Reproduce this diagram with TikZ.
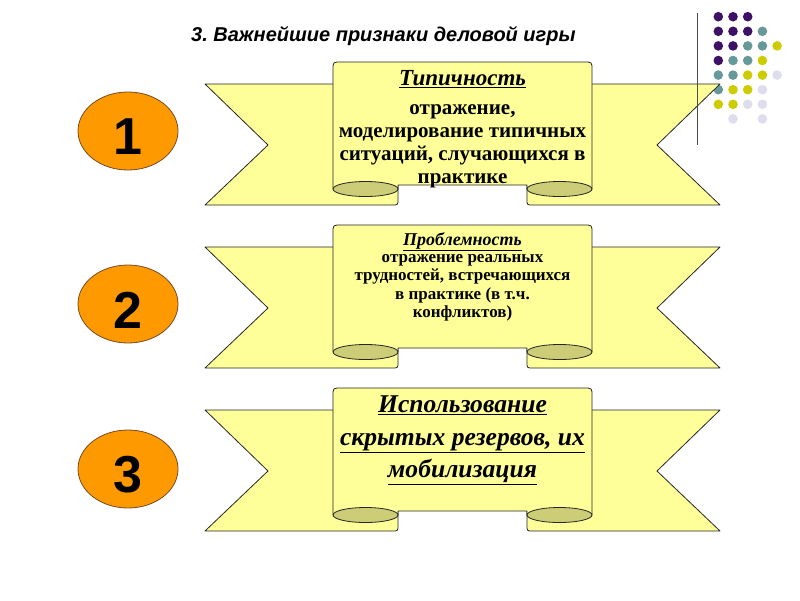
\documentclass[tikz,border=0pt]{standalone}
\usepackage{fontspec}
\setmainfont{Liberation Serif}
\newfontfamily\arialf{Liberation Sans}
\usetikzlibrary{shapes.geometric}
\definecolor{ribY}{HTML}{FFFF99}
\definecolor{curlY}{HTML}{CDCD78}
\definecolor{orng}{HTML}{FF9900}
\definecolor{dPurple}{HTML}{3D1166}
\definecolor{dTeal}{HTML}{669999}
\definecolor{dYel}{HTML}{CCCC00}
\definecolor{dLav}{HTML}{DDDDEE}
\tikzset{
  ribline/.style={draw=black!85, line width=0.8pt, fill=ribY, line join=round},
  curl/.style={draw=black!85, line width=0.8pt, fill=curlY},
  numoval/.style={ellipse, draw=brown!60!black, fill=orng, minimum width=100pt, minimum height=78pt, line width=0.8pt, inner sep=0pt},
  numtxt/.style={font=\arialf\bfseries\fontsize{52}{52}\selectfont, inner sep=0pt},
  ribtext/.style={align=center, anchor=north, inner sep=0pt},
}
\newcommand{\ribbonshape}{%
  \path[ribline] (205,0) -- (398,0) -- (398,115) .. controls (398,121) .. (392,121) -- (205,121) -- (268,61) -- cycle;
  \path[ribline] (720,0) -- (527,0) -- (527,115) .. controls (527,121) .. (533,121) -- (720,121) -- (657,61) -- cycle;
  \path[ribline] (333,105) -- (333,-14) .. controls (333,-22) .. (341,-22) -- (584,-22) .. controls (592,-22) .. (592,-14) -- (592,105) -- (527,105) -- (527,101) -- (398,101) -- (398,105) -- cycle;
  \path[curl] (365.5,105) ellipse [x radius=32.5pt, y radius=7.5pt];
  \path[curl] (559.5,105) ellipse [x radius=32.5pt, y radius=7.5pt];
}
\begin{document}
\begin{tikzpicture}[x=1pt,y=-1pt]
\path[fill=white, use as bounding box] (0,0) rectangle (800,600);

% dots
\foreach \c/\r/\col in {0/0/dPurple,1/0/dPurple,2/0/dPurple,
  0/1/dPurple,1/1/dPurple,2/1/dPurple,3/1/dTeal,
  0/2/dPurple,1/2/dPurple,2/2/dTeal,3/2/dTeal,4/2/dYel,
  0/3/dPurple,1/3/dTeal,2/3/dTeal,3/3/dYel,
  0/4/dTeal,1/4/dTeal,2/4/dYel,3/4/dYel,4/4/dLav,
  0/5/dTeal,1/5/dYel,2/5/dYel,3/5/dLav,
  0/6/dYel,1/6/dYel,2/6/dLav,3/6/dLav,
  1/7/dLav,3/7/dLav}
  \fill[\col] ({718.3+14.7*\c},{16.7+14.6*\r}) circle[radius=4.8pt];

% title
\node[anchor=west, inner sep=0pt, font=\arialf\bfseries\itshape\fontsize{20}{20}\selectfont] (title) at (191,36) {3.\ Важнейшие признаки деловой игры};

% ribbons
\begin{scope}[yshift=-84pt]\ribbonshape\end{scope}
\begin{scope}[yshift=-247pt]\ribbonshape\end{scope}
\begin{scope}[yshift=-410pt]\ribbonshape\end{scope}

\draw[gray!60!black, line width=1pt] (697,13) -- (697,145);

% ribbon texts
\node[ribtext, font=\bfseries\fontsize{21}{23}\selectfont] (t1) at (462.5,70)
  {{\itshape\fontsize{23}{23}\selectfont\underline{Типичность}}\\[6pt]
  отражение,\\ моделирование типичных\\ ситуаций, случающихся в\\ практике};
\node[ribtext, font=\bfseries\fontsize{17}{18.4}\selectfont] (t2) at (462.5,232)
  {{\itshape\fontsize{18}{18}\selectfont\underline{Проблемность}}\\[-1pt]
  отражение реальных\\ трудностей, встречающихся\\ в практике (в т.ч.\\ конфликтов)};
\node[ribtext, font=\bfseries\itshape\fontsize{25.6}{32.5}\selectfont] (t3) at (462.5,396)
  {\underline{Использование}\\ \underline{скрытых резервов, их}\\ \underline{мобилизация}};

% numbered ovals
\node[numoval] (o1) at (128,131) {};
\node[numoval] (o2) at (128,304) {};
\node[numoval] (o3) at (128,469) {};
\node[numtxt] (n1) at (128,137) {1};
\node[numtxt] (n2) at (128,310) {2};
\node[numtxt] (n3) at (128,475) {3};
\end{tikzpicture}
\end{document}
